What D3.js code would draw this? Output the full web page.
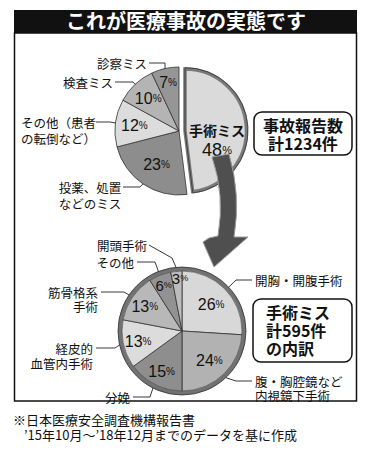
<!DOCTYPE html>
<html>
<head>
<meta charset="utf-8">
<script src="https://cdn.jsdelivr.net/npm/d3@7"></script>
<style>
  body { margin: 0; background: #fff; }
  svg { display: block; }
  text { font-family: "Noto Sans CJK JP", "Noto Sans", sans-serif; fill: #111; }
  .num { font-family: "Liberation Sans", Arial, sans-serif; }
</style>
</head>
<body>
<div id="chart"></div>
<script>
// data
const topCats = ['手術ミス', '投薬、処置などのミス', 'その他（患者の転倒など）', '検査ミス', '診察ミス'];
const topValues = [48, 23, 12, 10, 7];
const bottomCats = ['開胸・開腹手術', '腹・胸腔鏡など内視鏡下手術', '分娩', '経皮的血管内手術', '筋骨格系手術', 'その他', '開頭手術'];
const bottomValues = [26, 24, 15, 13, 13, 6, 3];
const totals = ['事故報告数', '計1234件'];
const subTotals = ['手術ミス', '計595件', 'の内訳'];

// greys
const topColors = ['#dadada', '#8d8d8d', '#dcdcdc', '#b4b4b4', '#969696'];
const bottomColors = ['#d8d8d8', '#b2b2b2', '#8e8e8e', '#dcdcdc', '#b8b8b8', '#929292', '#bdbdbd'];

const W = 371, H = 450;
const svg = d3.select('#chart').append('svg')
  .attr('width', W)
  .attr('height', H);

// title + frame
svg.append('rect').attr('x', 14).attr('y', 10).attr('width', 343).attr('height', 23).attr('fill', '#111');
svg.append('text').attr('x', 186).attr('y', 29).attr('text-anchor', 'middle')
  .attr('font-size', 20).attr('font-weight', 700).style('fill', '#fff')
  .text('これが医療事故の実態です');
svg.append('rect').attr('x', 14.5).attr('y', 33).attr('width', 342).attr('height', 368)
  .attr('fill', 'none').attr('stroke', '#111').attr('stroke-width', 1.5);

const pie = d3.pie().sort(null).value(d => d);
const R = 64;

function pctLabel(g, x, y, v, size) {
  const t = g.append('text').attr('class', 'num').attr('x', x).attr('y', y).attr('text-anchor', 'middle')
    .attr('dominant-baseline', 'central').attr('font-size', size);
  t.append('tspan').text(v);
  t.append('tspan').attr('font-size', Math.round(size * 0.62)).text('%');
  return t;
}

// where a % label sits inside its slice
function labelPos(a) {
  const r = a.data < 5 ? 53 : a.data < 10 ? 50 : a.data > 20 ? 40 : 45;
  const f = a.data < 5 ? 0.8 : 0.5;
  const m = a.startAngle + f * (a.endAngle - a.startAngle);
  return [r * Math.sin(m), -r * Math.cos(m)];
}

// ---------- top pie ----------
const topG = svg.append('g').attr('transform', 'translate(179,131)');
const topArcs = pie(topValues);
const arcTop = d3.arc().innerRadius(0).outerRadius(R);

topArcs.forEach((a, i) => {
  if (i === 0) return;
  topG.append('path').attr('d', arcTop(a)).attr('fill', topColors[i])
    .attr('stroke', '#333').attr('stroke-width', 0.8);
  const c = labelPos(a);
  pctLabel(topG, c[0], c[1], a.data, 16);
});

// exploded slice
const mid0 = (topArcs[0].startAngle + topArcs[0].endAngle) / 2;
const ex = d3.arc().innerRadius(0).outerRadius(R - 1);
const exG = topG.append('g').attr('transform', `translate(${6 * Math.sin(mid0)},${-6 * Math.cos(mid0)})`);
exG.append('path').attr('d', ex(topArcs[0])).attr('fill', topColors[0])
  .attr('stroke', '#fff').attr('stroke-width', 4);
exG.append('path').attr('d', d3.arc().innerRadius(0).outerRadius(R - 2.5)(topArcs[0]))
  .attr('fill', topColors[0]).attr('stroke', '#7a7a7a').attr('stroke-width', 3.5);
exG.append('path').attr('d', ex(topArcs[0])).attr('fill', 'none')
  .attr('stroke', '#333').attr('stroke-width', 0.8);

// leader lines + labels
function edgePoint(a, r) {
  const m = (a.startAngle + a.endAngle) / 2;
  return [r * Math.sin(m), -r * Math.cos(m)];
}

function drawLabels(g, cx, cy, arcs, specs, r) {
  specs.forEach(s => {
    const a = arcs[s.i];
    const e = edgePoint(a, r);
    const pts = [[s.lx, s.y], [s.kx, s.ky !== undefined ? s.ky : s.y], [cx + e[0], cy + e[1]]];
    g.append('path').attr('d', d3.line()(pts)).attr('fill', 'none')
      .attr('stroke', '#222').attr('stroke-width', 0.9);
    s.lines.forEach((t, j) => {
      g.append('text').attr('x', s.tx).attr('y', s.y + j * s.gap)
        .attr('text-anchor', s.anchor).attr('dominant-baseline', 'central')
        .attr('font-size', 12.5).text(t);
    });
  });
}

drawLabels(svg, 179, 131, topArcs, [
  { i: 4, lines: ['診察ミス'], tx: 147, y: 63, anchor: 'end', lx: 149, kx: 165, gap: 0 },
  { i: 3, lines: ['検査ミス'], tx: 113, y: 82, anchor: 'end', lx: 115, kx: 133, gap: 0 },
  { i: 2, lines: ['その他（患者', 'の転倒など）'], tx: 21, y: 122, anchor: 'start', lx: 96, kx: 110, gap: 16 },
  { i: 1, lines: ['投薬、処置', 'などのミス'], tx: 90, y: 187, anchor: 'middle', lx: 123, kx: 140, gap: 16 }
], R);

// exploded slice text
topG.append('text').attr('x', 38).attr('y', -1).attr('text-anchor', 'middle')
  .attr('dominant-baseline', 'central').attr('font-size', 14).attr('font-weight', 700).text(topCats[0]);
pctLabel(topG, 38, 19, topValues[0], 18);

// callout 1
svg.append('rect').attr('x', 254).attr('y', 112).attr('width', 98).attr('height', 43).attr('rx', 8)
  .attr('fill', '#fff').attr('stroke', '#111').attr('stroke-width', 1.5);
totals.forEach((t, j) => {
  svg.append('text').attr('x', 303).attr('y', 125 + j * 18).attr('text-anchor', 'middle')
    .attr('dominant-baseline', 'central').attr('font-size', 16).attr('font-weight', 700).text(t);
});

// ---------- arrow ----------
const p = d3.path();
p.moveTo(212, 157);
p.quadraticCurveTo(225, 195, 218, 236);
p.lineTo(209, 238);
p.lineTo(203, 242);
p.lineTo(214, 267);
p.lineTo(248, 237);
p.lineTo(234, 237);
p.quadraticCurveTo(241, 195, 229, 154);
p.closePath();
svg.append('path').attr('d', p.toString()).attr('fill', '#4f4f4f')
  .attr('stroke', '#9a9a9a').attr('stroke-width', 1);

// ---------- bottom pie ----------
const botG = svg.append('g').attr('transform', 'translate(182,331)');
const botArcs = pie(bottomValues);
const arcBot = d3.arc().innerRadius(0).outerRadius(R - 2);
botArcs.forEach((a, i) => {
  botG.append('path').attr('d', arcBot(a)).attr('fill', bottomColors[i])
    .attr('stroke', '#333').attr('stroke-width', 0.8);
});
botG.append('circle').attr('r', R - 2).attr('fill', 'none').attr('stroke', '#727272').attr('stroke-width', 4);
botG.append('circle').attr('r', R).attr('fill', 'none').attr('stroke', '#333').attr('stroke-width', 0.8);
botG.append('circle').attr('r', R - 4).attr('fill', 'none').attr('stroke', '#444').attr('stroke-width', 0.6);
botArcs.forEach(a => {
  const c = labelPos(a);
  pctLabel(botG, c[0], c[1], a.data, a.data < 10 ? 15 : 16);
});

drawLabels(svg, 182, 331, botArcs, [
  { i: 6, lines: ['開頭手術'], tx: 122, y: 245, anchor: 'middle', lx: 149, kx: 172, ky: 258, gap: 0 },
  { i: 5, lines: ['その他'], tx: 134, y: 262, anchor: 'end', lx: 137, kx: 155, gap: 0 },
  { i: 4, lines: ['筋骨格系', '手術'], tx: 98, y: 292, anchor: 'end', lx: 101, kx: 124, gap: 14 },
  { i: 3, lines: ['経皮的', '血管内手術'], tx: 93, y: 348, anchor: 'end', lx: 96, kx: 115, gap: 15 },
  { i: 2, lines: ['分娩'], tx: 130, y: 397, anchor: 'end', lx: 133, kx: 150, gap: 0 },
  { i: 0, lines: ['開胸・開腹手術'], tx: 255, y: 280, anchor: 'start', lx: 252, kx: 236, gap: 0 },
  { i: 1, lines: ['腹・胸腔鏡など', '内視鏡下手術'], tx: 255, y: 381, anchor: 'start', lx: 252, kx: 236, gap: 14 }
], R);

// callout 2
svg.append('rect').attr('x', 253).attr('y', 299).attr('width', 99).attr('height', 63).attr('rx', 8)
  .attr('fill', '#fff').attr('stroke', '#111').attr('stroke-width', 1.5);
subTotals.forEach((t, j) => {
  svg.append('text').attr('x', 266).attr('y', 312 + j * 18)
    .attr('dominant-baseline', 'central').attr('font-size', 16).attr('font-weight', 700).text(t);
});

// footnote
svg.append('text').attr('x', 13).attr('y', 419).attr('dominant-baseline', 'central')
  .attr('font-size', 13).text('※日本医療安全調査機構報告書');
svg.append('text').attr('x', 24).attr('y', 434).attr('dominant-baseline', 'central')
  .attr('font-size', 13).text('’15年10月～’18年12月までのデータを基に作成');
</script>
</body>
</html>
